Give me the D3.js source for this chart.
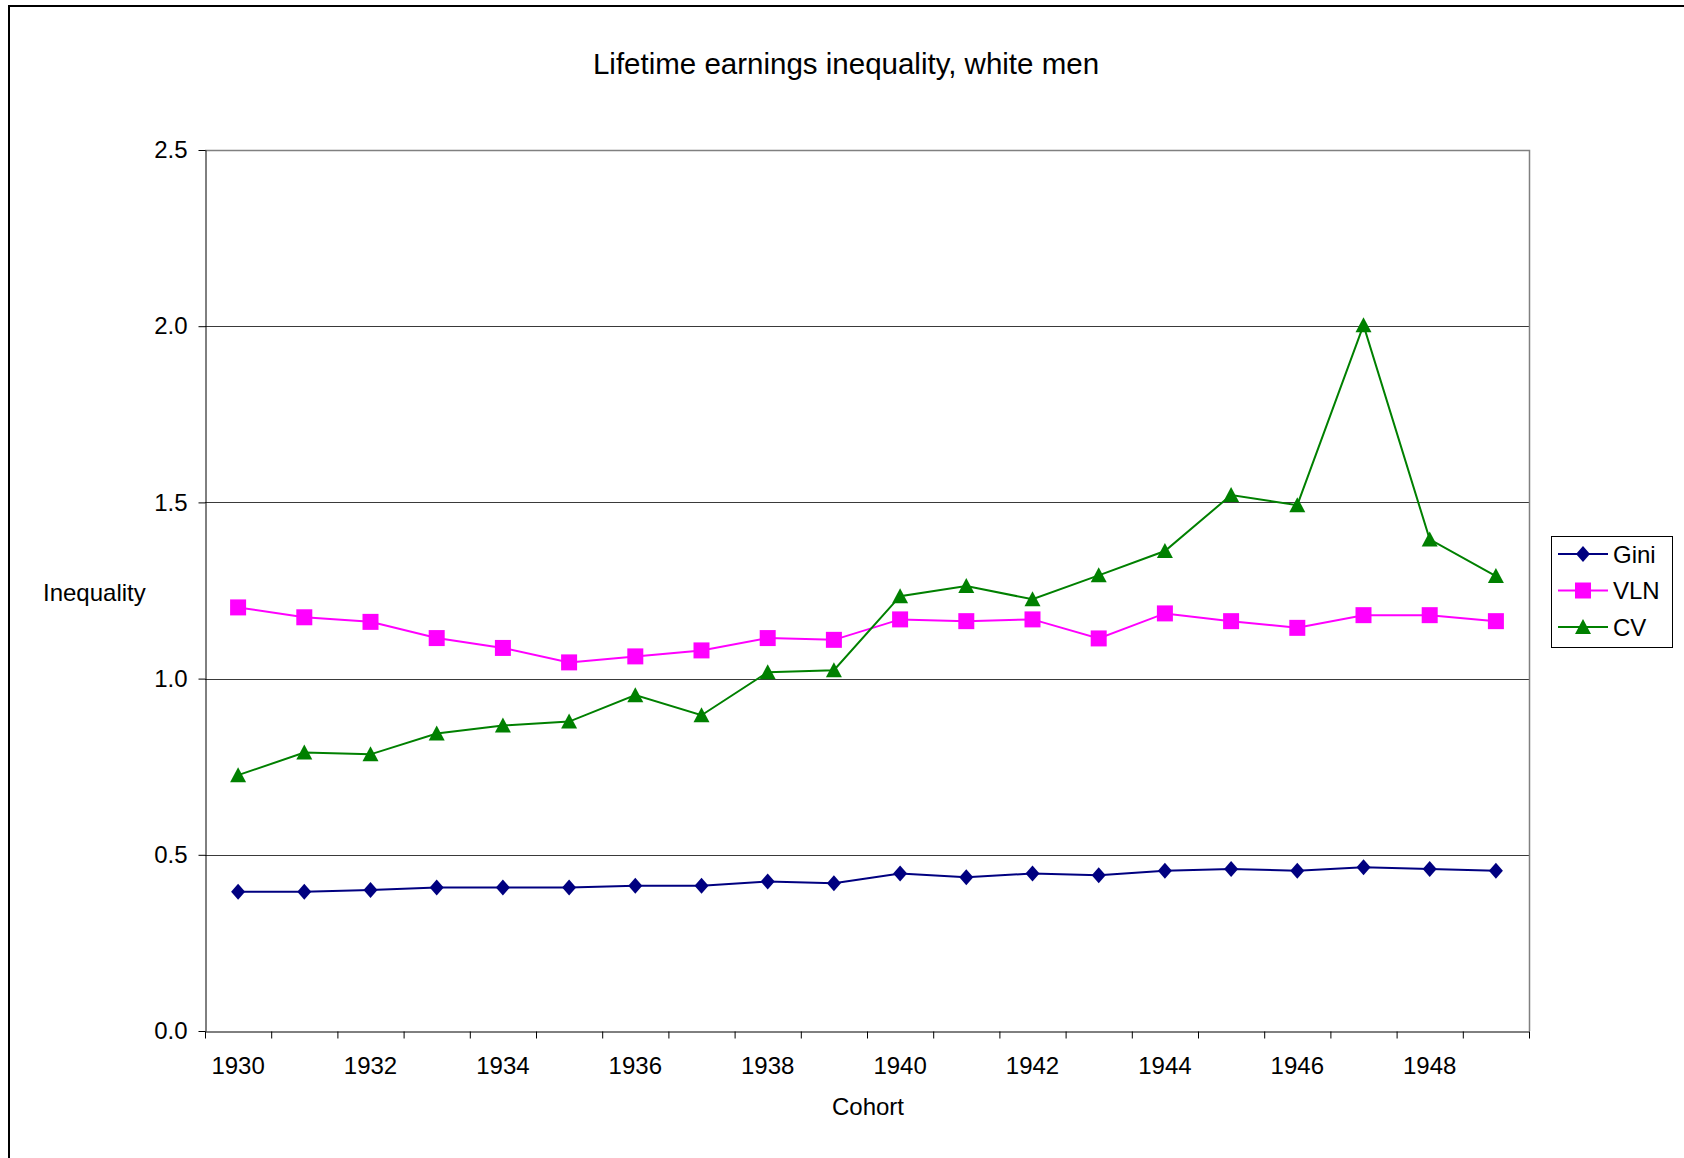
<!DOCTYPE html>
<html>
<head>
<meta charset="utf-8">
<script src="https://cdn.jsdelivr.net/npm/d3@7"></script>
<style>
  html, body { margin: 0; padding: 0; background: #fff; }
  svg { display: block; font-family: "Liberation Sans", Arial, sans-serif; }
</style>
</head>
<body>
<svg id="chart" width="1684" height="1158"></svg>
<script>
// Birth cohorts on the category axis
const cohorts = [1930, 1931, 1932, 1933, 1934, 1935, 1936, 1937, 1938, 1939,
                 1940, 1941, 1942, 1943, 1944, 1945, 1946, 1947, 1948, 1949];

// Inequality measures per cohort
const gini = [0.395, 0.395, 0.400, 0.407, 0.407, 0.407, 0.412, 0.412, 0.424, 0.419,
              0.447, 0.436, 0.447, 0.442, 0.455, 0.460, 0.455, 0.465, 0.460, 0.455];
const vln  = [1.202, 1.174, 1.161, 1.115, 1.087, 1.046, 1.063, 1.080, 1.115, 1.110,
              1.168, 1.163, 1.168, 1.114, 1.185, 1.163, 1.144, 1.180, 1.180, 1.163];
const cv   = [0.726, 0.790, 0.785, 0.844, 0.867, 0.878, 0.953, 0.896, 1.018, 1.024,
              1.234, 1.263, 1.225, 1.293, 1.362, 1.521, 1.492, 2.003, 1.395, 1.291];

const yTicks = [0, 0.5, 1.0, 1.5, 2.0, 2.5];
const xLabelYears = cohorts.filter((d, i) => i % 2 === 0);

const series = [
  { name: "Gini", values: gini, color: "#000080", marker: "diamond" },
  { name: "VLN",  values: vln,  color: "#FF00FF", marker: "square" },
  { name: "CV",   values: cv,   color: "#008000", marker: "triangle" }
];

const svg = d3.select("#chart");
const plotLeft = 205, plotRight = 1529, plotTop = 150, plotBottom = 1031;

const x = d3.scaleBand().domain(cohorts).range([plotLeft, plotRight]).padding(0);
const xEdge = d3.scaleLinear().domain([0, cohorts.length]).range([plotLeft, plotRight]);
const y = d3.scaleLinear().domain([0, 2.5]).range([plotBottom, plotTop]);
const cx = d => x(d) + x.bandwidth() / 2;

// Outer chart frame (only left and top edges fall inside the page)
svg.append("rect")
  .attr("x", 9).attr("y", 6).attr("width", 1700).attr("height", 1200)
  .attr("fill", "none").attr("stroke", "#000").attr("stroke-width", 2);

// Title
svg.append("text")
  .attr("x", 846).attr("y", 63)
  .attr("text-anchor", "middle").attr("dominant-baseline", "central")
  .attr("font-size", 29.5).text("Lifetime earnings inequality, white men");

// Horizontal gridlines
svg.append("g").selectAll("line")
  .data(yTicks.filter(v => v > 0 && v < 2.5))
  .join("line")
  .attr("x1", plotLeft).attr("x2", plotRight)
  .attr("y1", d => Math.round(y(d)) + 0.5).attr("y2", d => Math.round(y(d)) + 0.5)
  .attr("stroke", "#3a3a3a").attr("stroke-width", 1.2);

// Plot area top and right border
svg.append("path")
  .attr("d", `M${plotLeft},${plotTop + 0.5}H${plotRight + 0.5}V${plotBottom}`)
  .attr("fill", "none").attr("stroke", "#808080").attr("stroke-width", 1.5);

// Y axis
const yAxis = svg.append("g")
  .attr("transform", `translate(${plotLeft + 0.5},0)`)
  .call(d3.axisLeft(y).tickValues(yTicks).tickFormat(d3.format(".1f"))
        .tickSize(7).tickSizeOuter(0).tickPadding(11));
yAxis.selectAll("text").attr("font-size", 24).attr("fill", "#000")
  .attr("font-family", "Liberation Sans, Arial, sans-serif");
yAxis.selectAll("line, path").attr("stroke", "#000");

// X axis with tick marks between categories
const xAxis = svg.append("g")
  .attr("transform", `translate(0,${plotBottom + 0.5})`)
  .call(d3.axisBottom(xEdge).tickValues(d3.range(cohorts.length + 1))
        .tickFormat("").tickSize(7).tickSizeOuter(0));
xAxis.selectAll("line, path").attr("stroke", "#000");

svg.append("g").selectAll("text")
  .data(xLabelYears)
  .join("text")
  .attr("x", d => cx(d)).attr("y", 1065)
  .attr("text-anchor", "middle").attr("dominant-baseline", "central")
  .attr("font-size", 24).text(d => d);

// Axis titles
svg.append("text")
  .attr("x", 868).attr("y", 1106)
  .attr("text-anchor", "middle").attr("dominant-baseline", "central")
  .attr("font-size", 24).text("Cohort");
svg.append("text")
  .attr("x", 43).attr("y", 592)
  .attr("text-anchor", "start").attr("dominant-baseline", "central")
  .attr("font-size", 24).text("Inequality");

// Marker shapes
function markerPath(type) {
  if (type === "diamond") return "M0,-8L7,0L0,8L-7,0Z";
  if (type === "square") return "M-8,-8H8V8H-8Z";
  return "M0,-8L8,7H-8Z";
}

const line = d3.line().x((d, i) => cx(cohorts[i])).y(d => y(d));

series.forEach(s => {
  const g = svg.append("g");
  g.append("path")
    .attr("d", line(s.values))
    .attr("fill", "none").attr("stroke", s.color).attr("stroke-width", 2);
  g.selectAll("path.mk")
    .data(s.values)
    .join("path")
    .attr("class", "mk")
    .attr("transform", (d, i) => `translate(${cx(cohorts[i])},${y(d)})`)
    .attr("d", markerPath(s.marker))
    .attr("fill", s.color);
});

// Legend
const legend = svg.append("g");
legend.append("rect")
  .attr("x", 1551.5).attr("y", 536.5).attr("width", 121).attr("height", 111)
  .attr("fill", "#fff").attr("stroke", "#000").attr("stroke-width", 1);
const legendY = d3.scalePoint().domain(series.map(s => s.name)).range([554, 627]);
series.forEach(s => {
  const yy = legendY(s.name);
  legend.append("line")
    .attr("x1", 1558).attr("x2", 1608).attr("y1", yy).attr("y2", yy)
    .attr("stroke", s.color).attr("stroke-width", 2);
  legend.append("path")
    .attr("transform", `translate(1583,${yy})`)
    .attr("d", markerPath(s.marker)).attr("fill", s.color);
  legend.append("text")
    .attr("x", 1613).attr("y", yy)
    .attr("dominant-baseline", "central")
    .attr("font-size", 24).text(s.name);
});
</script>
</body>
</html>
